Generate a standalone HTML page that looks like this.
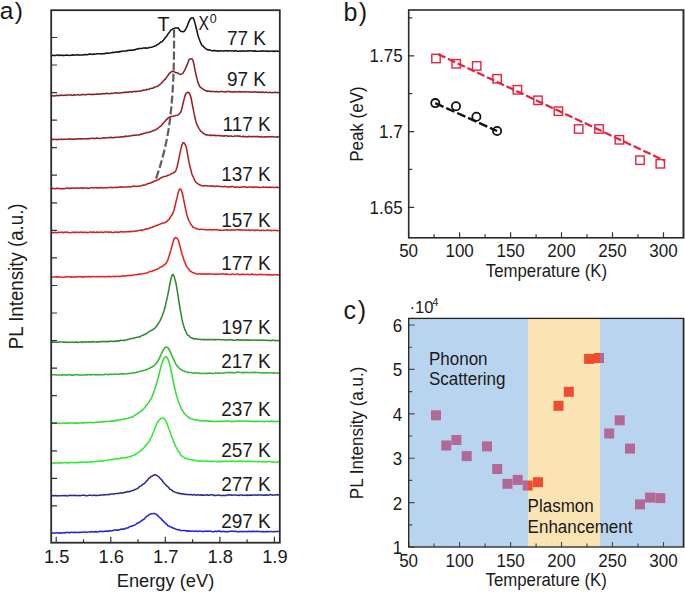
<!DOCTYPE html>
<html><head><meta charset="utf-8"><style>
html,body{margin:0;padding:0;background:#fff;}
svg{display:block;}
text{font-family:"Liberation Sans",sans-serif;fill:#1a1a1a;}
</style></head><body>
<svg width="685" height="592" viewBox="0 0 685 592">
<defs>
<clipPath id="ca"><rect x="52" y="11" width="227" height="531"/></clipPath>
<clipPath id="cblue"><rect x="409" y="319" width="119" height="228"/><rect x="600" y="319" width="83" height="228"/></clipPath>
<clipPath id="corange"><rect x="528" y="319" width="72" height="228"/></clipPath>
</defs>

<text x="-0.3" y="18.6" style="font-size:24.5px;letter-spacing:1.3px">a)</text>
<g clip-path="url(#ca)" fill="none" stroke-width="1.55" stroke-linejoin="round">
<path d="M52.0,55.2L53.0,55.4L54.0,55.3L55.0,55.4L56.0,55.4L57.0,55.0L58.0,55.0L59.0,55.6L60.0,55.1L61.0,55.1L62.0,55.6L63.0,55.3L64.0,55.5L65.0,55.2L66.0,55.3L67.0,55.0L68.0,55.3L69.0,55.4L70.0,55.2L71.0,55.3L72.0,55.2L73.0,54.8L74.0,55.2L75.0,55.1L76.0,54.9L77.0,54.6L78.0,55.2L79.0,54.9L80.0,55.0L81.0,55.1L82.0,54.9L83.0,55.0L84.0,54.6L85.0,54.8L86.0,54.5L87.0,54.8L88.0,54.7L89.0,54.1L90.0,54.1L91.0,54.1L92.0,54.5L93.0,54.1L94.0,54.2L95.0,53.9L96.0,54.0L97.0,53.8L98.0,53.7L99.0,53.8L100.0,53.8L101.0,53.9L102.0,53.7L103.0,53.8L104.0,53.6L105.0,53.6L106.0,53.3L107.0,52.9L108.0,53.2L109.0,53.2L110.0,53.1L111.0,52.7L112.0,52.7L113.0,52.2L114.0,52.5L115.0,52.3L116.0,51.9L117.0,51.7L118.0,52.1L119.0,52.1L120.0,51.3L121.0,51.7L122.0,51.3L123.0,51.0L124.0,51.0L125.0,51.2L126.0,51.1L127.0,50.4L128.0,50.7L129.0,50.1L130.0,50.5L131.0,50.0L132.0,50.3L133.0,50.2L134.0,49.7L135.0,49.9L136.0,49.2L137.0,48.9L138.0,49.1L139.0,48.5L140.0,48.5L141.0,48.5L142.0,48.5L143.0,48.1L144.0,47.9L145.0,48.3L146.0,47.8L147.0,48.2L148.0,48.0L149.0,47.5L150.0,47.4L151.0,47.3L152.0,47.1L153.0,46.8L154.0,46.4L155.0,46.0L156.0,45.7L157.0,44.8L158.0,44.1L159.0,43.7L160.0,42.7L161.0,42.0L162.0,41.7L163.0,40.5L164.0,39.5L165.0,38.0L166.0,37.0L167.0,35.7L168.0,33.9L169.0,32.8L170.0,31.4L171.0,29.9L172.0,29.5L173.0,28.8L174.0,28.5L175.0,27.9L176.0,27.9L177.0,27.9L178.0,27.8L179.0,29.0L180.0,30.7L181.0,31.5L182.0,31.5L183.0,31.8L184.0,31.5L185.0,30.3L186.0,28.7L187.0,26.7L188.0,23.9L189.0,21.4L190.0,19.4L191.0,18.2L192.0,17.8L193.0,17.7L194.0,19.8L195.0,23.1L196.0,27.2L197.0,31.3L198.0,35.5L199.0,38.4L200.0,41.1L201.0,43.5L202.0,45.3L203.0,46.0L204.0,47.2L205.0,48.0L206.0,49.0L207.0,49.3L208.0,50.0L209.0,49.8L210.0,50.1L211.0,50.5L212.0,50.8L213.0,50.6L214.0,50.6L215.0,50.6L216.0,50.9L217.0,50.7L218.0,51.1L219.0,51.1L220.0,50.7L221.0,50.8L222.0,51.1L223.0,51.0L224.0,51.1L225.0,50.8L226.0,50.7L227.0,50.8L228.0,51.1L229.0,50.8L230.0,50.8L231.0,50.9L232.0,50.9L233.0,50.9L234.0,51.3L235.0,50.7L236.0,50.6L237.0,51.3L238.0,51.2L239.0,51.3L240.0,50.9L241.0,51.3L242.0,51.3L243.0,50.8L244.0,51.1L245.0,51.2L246.0,51.1L247.0,51.0L248.0,50.8L249.0,50.9L250.0,50.8L251.0,50.7L252.0,51.1L253.0,50.9L254.0,51.2L255.0,50.7L256.0,51.3L257.0,51.2L258.0,51.3L259.0,51.3L260.0,51.3L261.0,51.1L262.0,50.7L263.0,51.3L264.0,50.9L265.0,51.0L266.0,51.2L267.0,51.1L268.0,51.1L269.0,51.4L270.0,51.2L271.0,51.0L272.0,51.0L273.0,51.4L274.0,51.1L275.0,51.4L276.0,51.1L277.0,51.0L278.0,51.2L279.0,51.4" stroke="#141414"/>
<path d="M52.0,95.5L53.0,95.9L54.0,95.9L55.0,95.8L56.0,95.8L57.0,95.2L58.0,95.6L59.0,95.7L60.0,95.2L61.0,95.3L62.0,95.2L63.0,95.4L64.0,95.3L65.0,95.3L66.0,95.5L67.0,94.9L68.0,94.9L69.0,94.9L70.0,94.9L71.0,94.8L72.0,95.4L73.0,95.3L74.0,94.8L75.0,95.0L76.0,94.9L77.0,94.8L78.0,94.8L79.0,95.0L80.0,94.9L81.0,94.7L82.0,94.6L83.0,94.6L84.0,94.5L85.0,94.7L86.0,94.8L87.0,94.5L88.0,94.3L89.0,94.3L90.0,94.4L91.0,94.5L92.0,94.6L93.0,94.3L94.0,94.5L95.0,94.3L96.0,94.2L97.0,94.1L98.0,94.1L99.0,94.2L100.0,93.9L101.0,94.1L102.0,93.8L103.0,93.6L104.0,93.8L105.0,93.8L106.0,93.3L107.0,93.5L108.0,93.4L109.0,93.7L110.0,93.6L111.0,93.2L112.0,93.5L113.0,93.3L114.0,92.9L115.0,93.0L116.0,92.7L117.0,93.1L118.0,92.9L119.0,93.0L120.0,92.9L121.0,92.8L122.0,92.8L123.0,92.6L124.0,92.2L125.0,92.5L126.0,92.1L127.0,92.1L128.0,92.5L129.0,91.9L130.0,91.8L131.0,91.7L132.0,92.2L133.0,91.6L134.0,91.4L135.0,91.8L136.0,91.2L137.0,91.6L138.0,91.3L139.0,91.3L140.0,91.2L141.0,90.8L142.0,90.8L143.0,90.0L144.0,90.3L145.0,89.9L146.0,89.9L147.0,89.2L148.0,89.4L149.0,89.3L150.0,88.5L151.0,88.4L152.0,88.3L153.0,88.2L154.0,87.4L155.0,87.1L156.0,86.7L157.0,86.6L158.0,86.1L159.0,85.2L160.0,84.4L161.0,83.5L162.0,82.5L163.0,81.5L164.0,80.1L165.0,79.3L166.0,78.4L167.0,76.6L168.0,75.5L169.0,73.7L170.0,72.9L171.0,72.0L172.0,71.5L173.0,71.3L174.0,71.6L175.0,72.2L176.0,72.8L177.0,72.7L178.0,73.0L179.0,73.9L180.0,74.4L181.0,74.3L182.0,73.9L183.0,73.2L184.0,71.4L185.0,69.6L186.0,67.3L187.0,65.2L188.0,62.5L189.0,59.8L190.0,58.9L191.0,59.0L192.0,58.8L193.0,60.4L194.0,64.7L195.0,70.1L196.0,74.5L197.0,78.9L198.0,82.6L199.0,84.9L200.0,86.8L201.0,87.7L202.0,88.3L203.0,89.1L204.0,89.6L205.0,90.5L206.0,90.5L207.0,91.4L208.0,91.1L209.0,91.3L210.0,91.3L211.0,91.6L212.0,91.6L213.0,91.5L214.0,91.5L215.0,91.7L216.0,91.8L217.0,91.5L218.0,91.8L219.0,91.9L220.0,91.6L221.0,91.4L222.0,91.5L223.0,91.8L224.0,91.8L225.0,92.0L226.0,92.0L227.0,91.5L228.0,91.5L229.0,91.6L230.0,91.6L231.0,91.9L232.0,92.0L233.0,92.1L234.0,91.6L235.0,92.1L236.0,91.7L237.0,91.8L238.0,92.0L239.0,91.6L240.0,91.6L241.0,92.1L242.0,91.8L243.0,91.8L244.0,92.0L245.0,92.1L246.0,91.6L247.0,91.8L248.0,91.9L249.0,92.0L250.0,91.8L251.0,92.1L252.0,92.3L253.0,92.0L254.0,92.1L255.0,91.8L256.0,91.9L257.0,92.2L258.0,91.9L259.0,92.4L260.0,92.4L261.0,91.9L262.0,92.5L263.0,92.1L264.0,92.4L265.0,92.4L266.0,92.1L267.0,92.4L268.0,92.4L269.0,92.5L270.0,92.2L271.0,92.5L272.0,92.7L273.0,92.5L274.0,92.4L275.0,92.2L276.0,92.4L277.0,92.4L278.0,92.6L279.0,92.6" stroke="#862226"/>
<path d="M52.0,139.5L53.0,139.3L54.0,139.6L55.0,139.5L56.0,139.2L57.0,139.7L58.0,139.5L59.0,139.1L60.0,139.6L61.0,139.1L62.0,139.2L63.0,139.4L64.0,139.3L65.0,139.3L66.0,139.3L67.0,139.2L68.0,139.0L69.0,138.9L70.0,138.8L71.0,139.2L72.0,139.3L73.0,139.1L74.0,139.2L75.0,138.9L76.0,138.8L77.0,138.9L78.0,139.2L79.0,138.6L80.0,138.9L81.0,138.7L82.0,139.0L83.0,138.7L84.0,138.7L85.0,138.7L86.0,138.8L87.0,138.9L88.0,138.6L89.0,138.9L90.0,138.3L91.0,138.4L92.0,138.2L93.0,138.2L94.0,138.6L95.0,138.6L96.0,138.1L97.0,138.1L98.0,138.2L99.0,138.4L100.0,138.4L101.0,138.3L102.0,138.1L103.0,137.8L104.0,137.9L105.0,137.7L106.0,137.9L107.0,137.9L108.0,137.5L109.0,137.5L110.0,137.8L111.0,137.2L112.0,137.7L113.0,137.7L114.0,137.7L115.0,137.2L116.0,137.3L117.0,137.2L118.0,137.2L119.0,137.3L120.0,137.1L121.0,136.7L122.0,137.0L123.0,136.7L124.0,136.6L125.0,136.6L126.0,136.0L127.0,136.4L128.0,136.2L129.0,136.0L130.0,135.9L131.0,135.8L132.0,135.4L133.0,135.6L134.0,135.1L135.0,135.3L136.0,135.2L137.0,135.0L138.0,134.9L139.0,135.0L140.0,134.7L141.0,134.0L142.0,134.2L143.0,133.9L144.0,133.2L145.0,133.2L146.0,132.8L147.0,132.4L148.0,132.5L149.0,132.4L150.0,131.7L151.0,131.7L152.0,131.3L153.0,130.5L154.0,130.6L155.0,130.0L156.0,129.7L157.0,128.9L158.0,128.2L159.0,127.2L160.0,126.6L161.0,125.8L162.0,124.7L163.0,123.3L164.0,122.5L165.0,121.3L166.0,120.1L167.0,119.1L168.0,118.2L169.0,117.5L170.0,116.8L171.0,116.6L172.0,116.5L173.0,116.2L174.0,115.9L175.0,115.8L176.0,115.4L177.0,115.3L178.0,115.0L179.0,114.2L180.0,113.1L181.0,111.8L182.0,108.0L183.0,103.5L184.0,99.6L185.0,95.9L186.0,93.4L187.0,92.6L188.0,92.2L189.0,92.7L190.0,94.4L191.0,97.5L192.0,102.9L193.0,107.9L194.0,113.2L195.0,117.8L196.0,121.9L197.0,124.7L198.0,126.7L199.0,128.6L200.0,130.1L201.0,131.6L202.0,132.2L203.0,132.9L204.0,133.8L205.0,134.3L206.0,134.9L207.0,134.8L208.0,135.1L209.0,135.2L210.0,135.0L211.0,135.7L212.0,135.2L213.0,135.2L214.0,135.5L215.0,135.3L216.0,135.7L217.0,135.5L218.0,135.4L219.0,135.4L220.0,135.9L221.0,135.6L222.0,136.0L223.0,135.8L224.0,136.2L225.0,135.8L226.0,135.8L227.0,135.8L228.0,136.3L229.0,136.2L230.0,136.0L231.0,135.9L232.0,136.3L233.0,136.5L234.0,136.3L235.0,135.9L236.0,136.0L237.0,136.0L238.0,136.1L239.0,136.1L240.0,136.1L241.0,136.5L242.0,136.7L243.0,136.3L244.0,136.8L245.0,136.5L246.0,136.7L247.0,136.8L248.0,136.9L249.0,136.2L250.0,136.4L251.0,136.7L252.0,136.9L253.0,136.3L254.0,136.5L255.0,136.9L256.0,136.4L257.0,136.6L258.0,136.6L259.0,136.8L260.0,137.0L261.0,136.5L262.0,136.9L263.0,136.9L264.0,137.0L265.0,136.8L266.0,137.1L267.0,136.7L268.0,136.7L269.0,136.6L270.0,137.0L271.0,136.8L272.0,136.7L273.0,136.6L274.0,137.0L275.0,136.9L276.0,137.0L277.0,136.8L278.0,136.9L279.0,136.7" stroke="#962125"/>
<path d="M52.0,188.7L53.0,188.3L54.0,188.5L55.0,188.7L56.0,188.7L57.0,188.2L58.0,188.3L59.0,188.7L60.0,188.6L61.0,188.7L62.0,188.7L63.0,188.4L64.0,188.7L65.0,188.6L66.0,188.3L67.0,188.3L68.0,188.1L69.0,188.3L70.0,188.7L71.0,188.0L72.0,188.4L73.0,188.0L74.0,188.0L75.0,188.4L76.0,188.1L77.0,187.9L78.0,188.0L79.0,188.3L80.0,188.2L81.0,187.8L82.0,188.0L83.0,188.5L84.0,187.9L85.0,188.1L86.0,188.0L87.0,188.3L88.0,188.1L89.0,188.2L90.0,188.0L91.0,187.8L92.0,187.7L93.0,187.6L94.0,188.1L95.0,187.6L96.0,187.5L97.0,188.2L98.0,187.6L99.0,188.1L100.0,187.5L101.0,187.7L102.0,187.6L103.0,188.0L104.0,187.8L105.0,187.8L106.0,187.8L107.0,187.9L108.0,187.5L109.0,187.6L110.0,187.5L111.0,187.2L112.0,187.7L113.0,187.5L114.0,187.6L115.0,187.2L116.0,187.4L117.0,187.3L118.0,187.4L119.0,186.9L120.0,187.1L121.0,187.1L122.0,186.8L123.0,187.1L124.0,187.2L125.0,186.9L126.0,187.0L127.0,187.0L128.0,186.6L129.0,186.7L130.0,187.1L131.0,186.6L132.0,186.6L133.0,186.3L134.0,186.3L135.0,186.1L136.0,186.6L137.0,186.3L138.0,186.3L139.0,186.3L140.0,185.9L141.0,185.9L142.0,185.5L143.0,185.1L144.0,185.3L145.0,184.9L146.0,184.7L147.0,184.0L148.0,183.8L149.0,183.2L150.0,183.3L151.0,182.8L152.0,182.1L153.0,182.2L154.0,181.3L155.0,180.8L156.0,180.8L157.0,180.1L158.0,179.8L159.0,179.3L160.0,178.3L161.0,178.2L162.0,177.3L163.0,176.9L164.0,176.5L165.0,176.5L166.0,176.3L167.0,175.8L168.0,175.3L169.0,175.0L170.0,174.6L171.0,173.9L172.0,173.4L173.0,173.2L174.0,172.5L175.0,171.9L176.0,170.3L177.0,167.2L178.0,162.8L179.0,158.1L180.0,153.2L181.0,148.6L182.0,144.8L183.0,142.7L184.0,142.7L185.0,144.3L186.0,146.2L187.0,150.9L188.0,156.8L189.0,162.2L190.0,166.7L191.0,170.6L192.0,174.3L193.0,176.4L194.0,178.7L195.0,180.9L196.0,182.3L197.0,183.1L198.0,183.8L199.0,184.4L200.0,185.2L201.0,185.3L202.0,185.8L203.0,185.8L204.0,186.1L205.0,185.6L206.0,185.8L207.0,185.7L208.0,186.0L209.0,186.0L210.0,185.9L211.0,186.2L212.0,185.9L213.0,186.1L214.0,186.1L215.0,186.5L216.0,186.2L217.0,186.2L218.0,186.0L219.0,186.3L220.0,186.5L221.0,186.6L222.0,186.8L223.0,186.7L224.0,186.4L225.0,186.3L226.0,186.8L227.0,186.9L228.0,186.7L229.0,187.0L230.0,186.8L231.0,186.6L232.0,186.6L233.0,186.5L234.0,187.0L235.0,187.2L236.0,187.2L237.0,186.9L238.0,187.1L239.0,187.3L240.0,187.2L241.0,187.1L242.0,187.0L243.0,187.1L244.0,186.8L245.0,186.8L246.0,187.2L247.0,187.4L248.0,187.1L249.0,187.0L250.0,187.0L251.0,187.1L252.0,187.3L253.0,187.1L254.0,187.5L255.0,186.9L256.0,187.0L257.0,187.2L258.0,187.1L259.0,187.4L260.0,187.4L261.0,187.5L262.0,187.3L263.0,186.9L264.0,187.3L265.0,187.2L266.0,187.2L267.0,187.1L268.0,187.4L269.0,187.5L270.0,187.0L271.0,187.4L272.0,187.2L273.0,187.3L274.0,187.5L275.0,187.6L276.0,187.4L277.0,187.1L278.0,187.6L279.0,187.1" stroke="#b32125"/>
<path d="M52.0,232.4L53.0,232.7L54.0,232.4L55.0,232.3L56.0,232.8L57.0,232.8L58.0,232.3L59.0,232.4L60.0,232.3L61.0,232.2L62.0,232.3L63.0,232.8L64.0,232.1L65.0,232.2L66.0,232.2L67.0,232.1L68.0,232.4L69.0,232.6L70.0,232.7L71.0,232.5L72.0,232.6L73.0,232.1L74.0,232.2L75.0,232.7L76.0,232.1L77.0,232.2L78.0,232.4L79.0,232.2L80.0,232.4L81.0,232.0L82.0,232.2L83.0,232.7L84.0,232.1L85.0,232.6L86.0,232.1L87.0,232.7L88.0,232.4L89.0,232.4L90.0,232.0L91.0,232.0L92.0,232.5L93.0,232.1L94.0,232.1L95.0,232.5L96.0,232.5L97.0,231.9L98.0,232.6L99.0,232.3L100.0,232.2L101.0,232.0L102.0,232.2L103.0,232.6L104.0,232.1L105.0,232.0L106.0,232.0L107.0,232.0L108.0,232.1L109.0,232.5L110.0,231.9L111.0,232.0L112.0,232.5L113.0,232.5L114.0,232.5L115.0,232.0L116.0,232.0L117.0,232.4L118.0,232.1L119.0,232.2L120.0,231.9L121.0,231.6L122.0,231.8L123.0,232.1L124.0,232.0L125.0,231.8L126.0,231.7L127.0,231.7L128.0,231.6L129.0,231.6L130.0,231.7L131.0,231.2L132.0,231.4L133.0,231.6L134.0,231.4L135.0,230.9L136.0,231.3L137.0,231.1L138.0,230.5L139.0,230.5L140.0,230.3L141.0,230.0L142.0,230.5L143.0,229.9L144.0,230.0L145.0,229.2L146.0,228.8L147.0,229.1L148.0,228.8L149.0,228.6L150.0,228.0L151.0,227.5L152.0,227.4L153.0,226.6L154.0,226.6L155.0,226.1L156.0,225.5L157.0,225.5L158.0,224.9L159.0,224.6L160.0,224.1L161.0,223.7L162.0,223.3L163.0,223.1L164.0,223.0L165.0,222.6L166.0,222.0L167.0,221.4L168.0,220.2L169.0,219.6L170.0,217.8L171.0,216.1L172.0,214.8L173.0,213.0L174.0,210.0L175.0,206.3L176.0,201.7L177.0,197.9L178.0,193.4L179.0,190.3L180.0,188.9L181.0,189.4L182.0,192.0L183.0,196.3L184.0,201.4L185.0,206.4L186.0,210.9L187.0,215.2L188.0,218.4L189.0,220.8L190.0,222.4L191.0,224.7L192.0,225.7L193.0,227.2L194.0,227.5L195.0,227.9L196.0,228.5L197.0,229.1L198.0,229.0L199.0,229.4L200.0,229.4L201.0,229.3L202.0,229.3L203.0,229.5L204.0,229.5L205.0,229.6L206.0,229.8L207.0,230.0L208.0,229.8L209.0,229.6L210.0,229.6L211.0,229.8L212.0,230.0L213.0,229.6L214.0,229.6L215.0,229.8L216.0,229.8L217.0,229.6L218.0,230.0L219.0,230.3L220.0,230.0L221.0,230.2L222.0,230.2L223.0,230.3L224.0,230.3L225.0,230.0L226.0,230.1L227.0,229.7L228.0,230.3L229.0,229.9L230.0,230.0L231.0,230.2L232.0,229.8L233.0,229.8L234.0,230.2L235.0,230.0L236.0,229.7L237.0,229.6L238.0,229.9L239.0,229.6L240.0,230.2L241.0,229.8L242.0,229.9L243.0,230.0L244.0,230.1L245.0,230.0L246.0,230.2L247.0,230.2L248.0,230.1L249.0,229.8L250.0,230.5L251.0,230.3L252.0,229.9L253.0,230.1L254.0,230.4L255.0,230.6L256.0,229.9L257.0,229.9L258.0,230.2L259.0,230.2L260.0,230.6L261.0,230.5L262.0,230.2L263.0,230.3L264.0,230.4L265.0,230.6L266.0,230.2L267.0,230.3L268.0,230.1L269.0,230.5L270.0,230.1L271.0,230.8L272.0,230.5L273.0,230.6L274.0,230.2L275.0,230.3L276.0,230.5L277.0,230.8L278.0,230.6L279.0,230.4" stroke="#d22226"/>
<path d="M52.0,277.3L53.0,277.1L54.0,277.0L55.0,276.8L56.0,276.8L57.0,277.3L58.0,276.7L59.0,277.0L60.0,277.1L61.0,276.9L62.0,277.2L63.0,277.2L64.0,277.2L65.0,277.1L66.0,276.7L67.0,276.6L68.0,276.9L69.0,276.8L70.0,276.7L71.0,277.2L72.0,276.7L73.0,277.1L74.0,277.2L75.0,276.6L76.0,277.2L77.0,276.8L78.0,276.7L79.0,276.7L80.0,276.6L81.0,276.9L82.0,276.8L83.0,277.1L84.0,277.1L85.0,276.5L86.0,276.8L87.0,276.8L88.0,276.6L89.0,276.6L90.0,276.6L91.0,276.9L92.0,276.7L93.0,276.5L94.0,276.6L95.0,276.7L96.0,276.8L97.0,276.5L98.0,276.9L99.0,276.5L100.0,276.8L101.0,276.8L102.0,276.4L103.0,276.8L104.0,276.6L105.0,276.7L106.0,276.7L107.0,276.7L108.0,276.5L109.0,276.3L110.0,276.7L111.0,276.8L112.0,276.5L113.0,276.5L114.0,276.3L115.0,276.7L116.0,276.5L117.0,276.1L118.0,276.5L119.0,276.6L120.0,276.1L121.0,276.5L122.0,276.1L123.0,275.8L124.0,276.1L125.0,275.8L126.0,276.0L127.0,275.8L128.0,275.3L129.0,275.5L130.0,275.7L131.0,275.3L132.0,275.2L133.0,275.3L134.0,274.9L135.0,274.8L136.0,274.7L137.0,274.8L138.0,274.2L139.0,274.0L140.0,274.3L141.0,274.0L142.0,273.6L143.0,273.8L144.0,273.6L145.0,273.2L146.0,273.2L147.0,272.9L148.0,272.5L149.0,271.9L150.0,271.4L151.0,271.6L152.0,271.3L153.0,270.6L154.0,270.4L155.0,270.0L156.0,269.4L157.0,269.2L158.0,268.7L159.0,268.1L160.0,267.4L161.0,267.1L162.0,266.4L163.0,266.1L164.0,265.0L165.0,264.4L166.0,263.2L167.0,261.8L168.0,259.6L169.0,256.3L170.0,253.1L171.0,249.7L172.0,245.9L173.0,242.3L174.0,239.3L175.0,237.8L176.0,237.6L177.0,238.2L178.0,239.8L179.0,242.5L180.0,246.6L181.0,250.2L182.0,253.8L183.0,257.0L184.0,260.4L185.0,262.6L186.0,265.5L187.0,267.0L188.0,268.4L189.0,269.5L190.0,271.1L191.0,271.3L192.0,272.2L193.0,272.8L194.0,272.9L195.0,273.2L196.0,273.9L197.0,273.9L198.0,273.9L199.0,274.1L200.0,273.6L201.0,274.1L202.0,274.1L203.0,273.8L204.0,274.0L205.0,274.4L206.0,273.9L207.0,274.2L208.0,273.8L209.0,274.2L210.0,273.9L211.0,274.1L212.0,274.0L213.0,274.3L214.0,274.2L215.0,274.1L216.0,274.2L217.0,274.0L218.0,274.3L219.0,273.9L220.0,274.1L221.0,274.2L222.0,274.0L223.0,273.8L224.0,273.9L225.0,274.2L226.0,274.0L227.0,274.3L228.0,274.2L229.0,274.5L230.0,274.4L231.0,274.4L232.0,274.1L233.0,273.9L234.0,274.3L235.0,274.4L236.0,274.5L237.0,274.1L238.0,274.0L239.0,274.6L240.0,274.5L241.0,274.3L242.0,274.5L243.0,274.1L244.0,274.4L245.0,274.5L246.0,274.5L247.0,274.2L248.0,274.2L249.0,274.5L250.0,274.7L251.0,274.2L252.0,274.1L253.0,274.2L254.0,274.7L255.0,274.4L256.0,274.5L257.0,274.9L258.0,274.6L259.0,274.4L260.0,274.7L261.0,274.3L262.0,274.5L263.0,274.8L264.0,274.4L265.0,274.4L266.0,274.7L267.0,274.6L268.0,275.1L269.0,274.5L270.0,275.0L271.0,274.7L272.0,275.0L273.0,274.8L274.0,274.9L275.0,274.7L276.0,274.7L277.0,274.8L278.0,275.1L279.0,274.8" stroke="#ea2224"/>
<path d="M52.0,342.1L53.0,342.2L54.0,342.0L55.0,342.2L56.0,342.3L57.0,342.3L58.0,342.3L59.0,342.1L60.0,341.9L61.0,341.9L62.0,342.1L63.0,342.0L64.0,342.3L65.0,342.1L66.0,342.4L67.0,342.3L68.0,342.3L69.0,342.4L70.0,342.2L71.0,342.2L72.0,342.1L73.0,341.9L74.0,342.4L75.0,342.2L76.0,341.9L77.0,342.5L78.0,342.2L79.0,342.2L80.0,342.1L81.0,341.9L82.0,342.5L83.0,341.9L84.0,342.0L85.0,342.4L86.0,341.8L87.0,342.1L88.0,342.0L89.0,341.8L90.0,342.3L91.0,341.9L92.0,341.6L93.0,341.9L94.0,341.6L95.0,342.0L96.0,342.1L97.0,342.1L98.0,341.5L99.0,341.9L100.0,341.6L101.0,341.7L102.0,341.6L103.0,341.6L104.0,341.4L105.0,341.7L106.0,341.3L107.0,341.9L108.0,341.2L109.0,341.8L110.0,341.2L111.0,341.1L112.0,341.5L113.0,341.3L114.0,341.4L115.0,341.1L116.0,341.2L117.0,340.7L118.0,341.0L119.0,340.8L120.0,341.0L121.0,340.2L122.0,340.2L123.0,340.4L124.0,340.5L125.0,340.0L126.0,340.0L127.0,339.7L128.0,339.4L129.0,339.2L130.0,339.1L131.0,338.5L132.0,338.5L133.0,338.5L134.0,338.0L135.0,337.9L136.0,337.4L137.0,337.2L138.0,337.2L139.0,337.0L140.0,336.8L141.0,336.2L142.0,335.6L143.0,335.3L144.0,334.7L145.0,334.2L146.0,333.8L147.0,333.1L148.0,332.3L149.0,331.7L150.0,331.1L151.0,330.5L152.0,330.2L153.0,329.3L154.0,329.0L155.0,327.9L156.0,326.7L157.0,325.6L158.0,323.8L159.0,322.7L160.0,320.8L161.0,318.6L162.0,316.6L163.0,313.7L164.0,310.7L165.0,307.3L166.0,302.9L167.0,298.6L168.0,293.8L169.0,288.9L170.0,283.2L171.0,278.8L172.0,275.3L173.0,274.3L174.0,276.2L175.0,279.4L176.0,283.5L177.0,289.2L178.0,295.4L179.0,301.9L180.0,308.6L181.0,313.7L182.0,319.4L183.0,323.6L184.0,326.9L185.0,330.0L186.0,331.8L187.0,334.0L188.0,335.4L189.0,335.8L190.0,337.0L191.0,337.8L192.0,337.8L193.0,338.6L194.0,338.9L195.0,338.7L196.0,338.7L197.0,338.9L198.0,339.4L199.0,339.3L200.0,339.3L201.0,339.4L202.0,339.8L203.0,339.4L204.0,339.2L205.0,339.9L206.0,339.5L207.0,339.5L208.0,340.0L209.0,339.5L210.0,339.3L211.0,339.9L212.0,339.5L213.0,339.4L214.0,340.0L215.0,339.5L216.0,339.9L217.0,339.5L218.0,339.5L219.0,339.5L220.0,339.7L221.0,339.8L222.0,339.7L223.0,339.8L224.0,339.6L225.0,340.0L226.0,340.1L227.0,340.0L228.0,340.1L229.0,339.6L230.0,339.7L231.0,339.7L232.0,339.7L233.0,340.2L234.0,340.2L235.0,340.2L236.0,340.0L237.0,339.7L238.0,339.9L239.0,339.7L240.0,340.3L241.0,339.8L242.0,339.9L243.0,340.4L244.0,339.8L245.0,340.4L246.0,339.9L247.0,340.2L248.0,339.8L249.0,340.4L250.0,340.1L251.0,340.0L252.0,340.3L253.0,340.2L254.0,340.0L255.0,339.9L256.0,340.3L257.0,339.9L258.0,340.5L259.0,340.1L260.0,340.0L261.0,340.2L262.0,340.0L263.0,340.2L264.0,340.3L265.0,340.3L266.0,340.2L267.0,340.2L268.0,340.4L269.0,340.6L270.0,340.3L271.0,340.6L272.0,340.4L273.0,340.2L274.0,340.2L275.0,340.7L276.0,340.4L277.0,340.4L278.0,340.5L279.0,340.7" stroke="#2c8a2e"/>
<path d="M52.0,374.8L53.0,374.8L54.0,374.8L55.0,374.6L56.0,374.9L57.0,374.9L58.0,374.9L59.0,374.9L60.0,374.9L61.0,375.0L62.0,374.7L63.0,375.2L64.0,374.6L65.0,375.1L66.0,374.7L67.0,375.1L68.0,374.7L69.0,374.6L70.0,374.9L71.0,375.1L72.0,375.1L73.0,375.1L74.0,375.2L75.0,374.6L76.0,374.8L77.0,374.6L78.0,375.0L79.0,374.8L80.0,375.0L81.0,375.1L82.0,375.2L83.0,375.0L84.0,375.1L85.0,374.9L86.0,374.5L87.0,375.1L88.0,374.5L89.0,374.5L90.0,375.0L91.0,374.6L92.0,374.9L93.0,374.4L94.0,374.5L95.0,374.9L96.0,374.4L97.0,374.7L98.0,375.0L99.0,374.5L100.0,374.8L101.0,374.8L102.0,374.7L103.0,374.8L104.0,374.7L105.0,374.2L106.0,374.3L107.0,374.5L108.0,374.8L109.0,374.2L110.0,374.4L111.0,374.1L112.0,374.6L113.0,374.2L114.0,374.3L115.0,374.3L116.0,373.9L117.0,374.3L118.0,374.3L119.0,374.3L120.0,373.9L121.0,373.8L122.0,373.7L123.0,374.2L124.0,373.8L125.0,373.7L126.0,373.7L127.0,373.7L128.0,373.4L129.0,373.3L130.0,373.5L131.0,373.4L132.0,372.9L133.0,372.6L134.0,373.0L135.0,372.7L136.0,372.4L137.0,372.1L138.0,372.2L139.0,371.6L140.0,371.2L141.0,370.9L142.0,370.8L143.0,370.7L144.0,370.2L145.0,370.3L146.0,369.7L147.0,369.2L148.0,368.9L149.0,368.5L150.0,368.0L151.0,367.5L152.0,367.0L153.0,366.3L154.0,365.8L155.0,364.4L156.0,363.7L157.0,362.2L158.0,361.1L159.0,358.9L160.0,356.9L161.0,354.5L162.0,352.6L163.0,350.5L164.0,348.9L165.0,347.5L166.0,347.1L167.0,347.3L168.0,347.8L169.0,349.3L170.0,351.0L171.0,353.4L172.0,355.5L173.0,358.1L174.0,360.2L175.0,362.4L176.0,364.4L177.0,365.9L178.0,366.7L179.0,368.0L180.0,368.9L181.0,369.3L182.0,370.4L183.0,370.6L184.0,371.0L185.0,371.5L186.0,371.8L187.0,372.0L188.0,372.5L189.0,372.4L190.0,372.5L191.0,372.4L192.0,372.9L193.0,372.9L194.0,373.1L195.0,373.1L196.0,372.9L197.0,373.0L198.0,373.1L199.0,373.1L200.0,373.6L201.0,373.4L202.0,373.2L203.0,373.5L204.0,373.5L205.0,373.1L206.0,373.5L207.0,373.2L208.0,373.7L209.0,373.1L210.0,373.2L211.0,373.1L212.0,373.5L213.0,373.5L214.0,373.3L215.0,372.9L216.0,373.1L217.0,373.2L218.0,372.7L219.0,373.3L220.0,373.2L221.0,373.2L222.0,373.0L223.0,372.9L224.0,373.1L225.0,372.6L226.0,372.6L227.0,372.4L228.0,372.4L229.0,372.8L230.0,372.3L231.0,372.7L232.0,372.5L233.0,372.8L234.0,372.7L235.0,372.6L236.0,372.7L237.0,372.1L238.0,372.3L239.0,372.3L240.0,372.4L241.0,372.5L242.0,372.7L243.0,372.6L244.0,372.7L245.0,372.5L246.0,372.3L247.0,372.4L248.0,372.6L249.0,372.7L250.0,372.4L251.0,372.4L252.0,372.6L253.0,372.3L254.0,372.8L255.0,372.2L256.0,372.7L257.0,372.6L258.0,372.4L259.0,372.6L260.0,372.6L261.0,373.0L262.0,372.9L263.0,372.7L264.0,373.0L265.0,373.0L266.0,372.5L267.0,373.0L268.0,373.0L269.0,373.1L270.0,373.0L271.0,372.8L272.0,372.7L273.0,373.0L274.0,372.7L275.0,373.1L276.0,373.0L277.0,373.2L278.0,372.9L279.0,372.9" stroke="#36b236"/>
<path d="M52.0,423.5L53.0,423.3L54.0,423.1L55.0,423.2L56.0,423.1L57.0,423.2L58.0,423.1L59.0,423.0L60.0,423.5L61.0,423.4L62.0,423.3L63.0,422.9L64.0,422.9L65.0,423.2L66.0,423.3L67.0,423.2L68.0,422.8L69.0,423.2L70.0,423.0L71.0,422.9L72.0,423.1L73.0,422.9L74.0,423.1L75.0,423.1L76.0,423.3L77.0,422.7L78.0,423.0L79.0,423.2L80.0,423.0L81.0,422.9L82.0,423.1L83.0,422.5L84.0,423.0L85.0,422.8L86.0,422.8L87.0,422.6L88.0,422.8L89.0,422.4L90.0,422.6L91.0,422.4L92.0,422.8L93.0,422.7L94.0,422.4L95.0,422.5L96.0,422.2L97.0,422.3L98.0,421.9L99.0,422.4L100.0,422.2L101.0,422.2L102.0,421.6L103.0,422.0L104.0,421.4L105.0,421.7L106.0,421.6L107.0,421.2L108.0,421.3L109.0,421.6L110.0,421.3L111.0,420.9L112.0,421.2L113.0,420.7L114.0,421.0L115.0,420.5L116.0,420.2L117.0,420.7L118.0,419.9L119.0,419.9L120.0,420.1L121.0,419.4L122.0,419.5L123.0,419.6L124.0,419.2L125.0,418.8L126.0,418.8L127.0,418.6L128.0,418.2L129.0,418.0L130.0,417.5L131.0,417.2L132.0,417.3L133.0,416.8L134.0,415.7L135.0,415.2L136.0,414.5L137.0,414.3L138.0,413.2L139.0,412.5L140.0,412.1L141.0,410.9L142.0,410.6L143.0,409.3L144.0,408.5L145.0,407.4L146.0,405.8L147.0,404.9L148.0,403.4L149.0,401.8L150.0,400.2L151.0,398.9L152.0,396.7L153.0,394.0L154.0,391.6L155.0,388.3L156.0,385.4L157.0,381.8L158.0,378.5L159.0,374.8L160.0,370.4L161.0,366.5L162.0,363.0L163.0,360.4L164.0,358.2L165.0,357.4L166.0,356.5L167.0,357.6L168.0,359.0L169.0,361.9L170.0,365.8L171.0,370.4L172.0,375.2L173.0,380.5L174.0,384.8L175.0,389.2L176.0,393.6L177.0,397.1L178.0,400.2L179.0,403.0L180.0,405.3L181.0,407.8L182.0,409.6L183.0,411.4L184.0,413.0L185.0,414.1L186.0,415.2L187.0,416.2L188.0,417.0L189.0,417.4L190.0,418.5L191.0,418.6L192.0,419.0L193.0,419.4L194.0,419.2L195.0,419.9L196.0,420.1L197.0,419.9L198.0,419.9L199.0,420.6L200.0,420.8L201.0,420.8L202.0,420.6L203.0,420.9L204.0,420.6L205.0,420.8L206.0,421.0L207.0,421.2L208.0,420.8L209.0,421.5L210.0,420.9L211.0,421.6L212.0,421.1L213.0,421.5L214.0,421.5L215.0,421.6L216.0,421.3L217.0,421.4L218.0,421.2L219.0,421.5L220.0,421.0L221.0,421.6L222.0,421.4L223.0,421.0L224.0,421.6L225.0,421.1L226.0,421.0L227.0,421.1L228.0,420.9L229.0,421.1L230.0,421.4L231.0,421.6L232.0,421.3L233.0,421.5L234.0,421.4L235.0,421.4L236.0,421.1L237.0,421.0L238.0,421.0L239.0,421.2L240.0,421.0L241.0,421.4L242.0,421.1L243.0,421.3L244.0,421.2L245.0,421.3L246.0,421.0L247.0,421.1L248.0,421.4L249.0,421.0L250.0,421.4L251.0,421.6L252.0,421.2L253.0,421.6L254.0,421.3L255.0,421.6L256.0,421.3L257.0,421.5L258.0,421.4L259.0,421.1L260.0,421.3L261.0,421.4L262.0,421.3L263.0,421.4L264.0,421.6L265.0,421.5L266.0,421.5L267.0,421.1L268.0,421.5L269.0,421.4L270.0,421.7L271.0,421.0L272.0,421.1L273.0,421.7L274.0,421.3L275.0,421.5L276.0,421.4L277.0,421.3L278.0,421.4L279.0,421.4" stroke="#36dc36"/>
<path d="M52.0,463.3L53.0,463.0L54.0,463.2L55.0,462.8L56.0,463.1L57.0,463.0L58.0,463.1L59.0,463.1L60.0,462.6L61.0,463.2L62.0,462.9L63.0,462.6L64.0,462.8L65.0,462.5L66.0,462.6L67.0,463.0L68.0,462.9L69.0,463.0L70.0,462.4L71.0,462.4L72.0,462.5L73.0,462.6L74.0,462.7L75.0,462.4L76.0,462.7L77.0,462.6L78.0,462.3L79.0,462.7L80.0,462.1L81.0,462.5L82.0,462.1L83.0,462.0L84.0,462.3L85.0,462.3L86.0,462.3L87.0,462.1L88.0,462.4L89.0,462.3L90.0,461.8L91.0,461.6L92.0,462.2L93.0,461.7L94.0,461.4L95.0,461.4L96.0,461.7L97.0,461.2L98.0,461.2L99.0,461.3L100.0,461.0L101.0,461.1L102.0,461.1L103.0,460.9L104.0,460.7L105.0,460.5L106.0,460.2L107.0,460.2L108.0,460.1L109.0,459.9L110.0,459.7L111.0,459.7L112.0,459.2L113.0,459.4L114.0,459.5L115.0,458.7L116.0,458.7L117.0,459.1L118.0,458.3L119.0,458.7L120.0,458.4L121.0,457.9L122.0,458.2L123.0,457.6L124.0,458.1L125.0,457.6L126.0,457.8L127.0,457.7L128.0,456.9L129.0,456.9L130.0,456.5L131.0,456.6L132.0,455.8L133.0,455.4L134.0,454.9L135.0,454.9L136.0,453.9L137.0,453.3L138.0,452.7L139.0,452.1L140.0,451.2L141.0,450.7L142.0,449.4L143.0,448.5L144.0,447.8L145.0,446.2L146.0,445.0L147.0,444.3L148.0,442.6L149.0,441.5L150.0,439.9L151.0,437.9L152.0,435.8L153.0,433.0L154.0,430.8L155.0,428.1L156.0,425.5L157.0,423.2L158.0,421.5L159.0,420.7L160.0,419.1L161.0,418.5L162.0,418.1L163.0,418.0L164.0,418.6L165.0,419.7L166.0,421.1L167.0,423.6L168.0,426.4L169.0,429.1L170.0,431.6L171.0,434.9L172.0,437.2L173.0,439.7L174.0,442.4L175.0,444.8L176.0,446.8L177.0,448.5L178.0,450.8L179.0,451.8L180.0,453.5L181.0,455.3L182.0,456.2L183.0,457.0L184.0,457.2L185.0,458.2L186.0,458.3L187.0,458.4L188.0,459.2L189.0,459.6L190.0,459.2L191.0,459.6L192.0,460.1L193.0,459.9L194.0,460.0L195.0,460.5L196.0,460.4L197.0,460.9L198.0,461.0L199.0,461.1L200.0,461.1L201.0,460.8L202.0,461.2L203.0,461.2L204.0,461.2L205.0,461.3L206.0,461.1L207.0,461.1L208.0,461.6L209.0,461.3L210.0,461.1L211.0,461.8L212.0,461.4L213.0,461.6L214.0,461.3L215.0,461.2L216.0,461.4L217.0,461.7L218.0,461.3L219.0,461.8L220.0,461.3L221.0,461.7L222.0,461.2L223.0,461.4L224.0,461.2L225.0,461.2L226.0,461.4L227.0,461.3L228.0,461.4L229.0,461.2L230.0,461.3L231.0,461.3L232.0,461.7L233.0,461.1L234.0,461.3L235.0,461.6L236.0,461.4L237.0,461.2L238.0,461.7L239.0,461.1L240.0,461.1L241.0,461.1L242.0,461.4L243.0,461.7L244.0,461.3L245.0,461.3L246.0,461.7L247.0,461.2L248.0,461.2L249.0,461.6L250.0,461.2L251.0,461.6L252.0,461.3L253.0,461.6L254.0,461.8L255.0,461.6L256.0,461.5L257.0,461.7L258.0,461.8L259.0,461.4L260.0,461.5L261.0,461.6L262.0,461.7L263.0,461.6L264.0,461.9L265.0,461.6L266.0,462.1L267.0,461.7L268.0,461.6L269.0,461.5L270.0,461.6L271.0,461.7L272.0,462.1L273.0,461.8L274.0,461.9L275.0,462.3L276.0,462.3L277.0,462.2L278.0,461.8L279.0,461.9" stroke="#30ec30"/>
<path d="M52.0,495.8L53.0,495.6L54.0,495.7L55.0,495.6L56.0,495.6L57.0,495.9L58.0,495.8L59.0,495.7L60.0,495.7L61.0,495.8L62.0,495.8L63.0,495.4L64.0,495.9L65.0,495.6L66.0,495.5L67.0,496.0L68.0,495.8L69.0,495.5L70.0,495.3L71.0,495.6L72.0,495.5L73.0,495.5L74.0,495.3L75.0,495.6L76.0,495.4L77.0,495.7L78.0,495.5L79.0,495.4L80.0,495.7L81.0,495.5L82.0,495.2L83.0,495.3L84.0,495.2L85.0,495.4L86.0,495.8L87.0,495.8L88.0,495.6L89.0,495.2L90.0,495.3L91.0,495.3L92.0,495.4L93.0,495.5L94.0,495.1L95.0,495.4L96.0,495.3L97.0,495.5L98.0,495.5L99.0,495.2L100.0,495.3L101.0,495.0L102.0,495.0L103.0,495.1L104.0,494.6L105.0,494.9L106.0,494.8L107.0,494.5L108.0,494.4L109.0,494.7L110.0,494.3L111.0,494.1L112.0,494.0L113.0,494.1L114.0,493.9L115.0,493.7L116.0,493.6L117.0,493.4L118.0,493.5L119.0,493.4L120.0,492.9L121.0,493.1L122.0,492.7L123.0,493.0L124.0,492.8L125.0,492.0L126.0,492.2L127.0,491.8L128.0,491.4L129.0,491.7L130.0,491.4L131.0,491.1L132.0,490.7L133.0,490.6L134.0,489.9L135.0,489.6L136.0,489.1L137.0,488.7L138.0,488.2L139.0,487.1L140.0,486.4L141.0,485.8L142.0,485.1L143.0,484.1L144.0,483.7L145.0,482.8L146.0,481.7L147.0,480.5L148.0,479.5L149.0,478.2L150.0,477.7L151.0,476.5L152.0,476.3L153.0,475.5L154.0,474.9L155.0,474.7L156.0,475.1L157.0,475.5L158.0,476.4L159.0,476.9L160.0,478.4L161.0,479.1L162.0,480.2L163.0,481.7L164.0,482.9L165.0,484.0L166.0,485.0L167.0,486.2L168.0,486.8L169.0,487.9L170.0,489.3L171.0,489.6L172.0,490.3L173.0,491.4L174.0,491.6L175.0,492.1L176.0,492.5L177.0,492.9L178.0,492.9L179.0,493.5L180.0,493.2L181.0,494.0L182.0,493.8L183.0,494.1L184.0,494.0L185.0,494.4L186.0,494.3L187.0,494.5L188.0,494.4L189.0,494.8L190.0,494.8L191.0,494.4L192.0,494.9L193.0,495.0L194.0,494.6L195.0,494.6L196.0,495.1L197.0,495.2L198.0,494.6L199.0,495.1L200.0,495.2L201.0,494.8L202.0,495.2L203.0,494.9L204.0,495.2L205.0,495.0L206.0,495.0L207.0,494.8L208.0,495.2L209.0,495.2L210.0,494.9L211.0,494.8L212.0,494.8L213.0,494.9L214.0,495.5L215.0,495.3L216.0,495.4L217.0,495.3L218.0,494.9L219.0,495.1L220.0,495.5L221.0,495.4L222.0,495.5L223.0,495.4L224.0,495.3L225.0,495.4L226.0,495.5L227.0,495.1L228.0,494.9L229.0,495.1L230.0,494.8L231.0,495.0L232.0,495.3L233.0,495.0L234.0,495.0L235.0,494.9L236.0,495.1L237.0,495.2L238.0,495.3L239.0,495.5L240.0,494.9L241.0,495.0L242.0,494.9L243.0,495.5L244.0,495.3L245.0,495.3L246.0,495.4L247.0,494.8L248.0,495.5L249.0,495.1L250.0,495.3L251.0,495.1L252.0,495.3L253.0,495.0L254.0,495.0L255.0,494.9L256.0,495.3L257.0,495.1L258.0,494.8L259.0,495.0L260.0,495.1L261.0,495.0L262.0,495.1L263.0,495.3L264.0,495.1L265.0,495.2L266.0,494.8L267.0,495.2L268.0,495.3L269.0,495.0L270.0,494.6L271.0,494.6L272.0,495.1L273.0,495.1L274.0,495.0L275.0,494.9L276.0,494.9L277.0,494.6L278.0,494.9L279.0,495.1" stroke="#2a2a92"/>
<path d="M52.0,532.8L53.0,533.1L54.0,533.2L55.0,533.0L56.0,532.8L57.0,532.7L58.0,533.0L59.0,533.1L60.0,533.1L61.0,532.7L62.0,532.9L63.0,533.0L64.0,532.6L65.0,532.9L66.0,532.6L67.0,532.4L68.0,532.3L69.0,532.8L70.0,532.7L71.0,532.2L72.0,532.2L73.0,532.4L74.0,532.3L75.0,532.6L76.0,532.2L77.0,532.4L78.0,532.4L79.0,532.2L80.0,532.5L81.0,532.2L82.0,532.2L83.0,532.3L84.0,532.1L85.0,531.9L86.0,532.4L87.0,532.3L88.0,532.1L89.0,532.0L90.0,532.1L91.0,531.8L92.0,531.6L93.0,531.9L94.0,532.1L95.0,531.5L96.0,532.1L97.0,531.6L98.0,532.0L99.0,531.8L100.0,531.3L101.0,531.2L102.0,531.6L103.0,531.6L104.0,531.4L105.0,531.2L106.0,531.1L107.0,531.2L108.0,531.1L109.0,531.1L110.0,530.6L111.0,530.9L112.0,530.9L113.0,530.5L114.0,530.0L115.0,530.0L116.0,530.2L117.0,530.0L118.0,530.2L119.0,529.8L120.0,529.7L121.0,529.1L122.0,529.2L123.0,529.1L124.0,529.1L125.0,528.8L126.0,528.1L127.0,528.0L128.0,528.0L129.0,527.0L130.0,526.6L131.0,526.3L132.0,526.3L133.0,525.5L134.0,525.3L135.0,524.9L136.0,524.3L137.0,523.2L138.0,523.1L139.0,522.5L140.0,521.8L141.0,521.2L142.0,520.5L143.0,519.7L144.0,519.2L145.0,518.1L146.0,516.9L147.0,516.1L148.0,515.8L149.0,514.7L150.0,514.3L151.0,514.1L152.0,513.7L153.0,513.6L154.0,513.4L155.0,513.8L156.0,514.1L157.0,514.9L158.0,515.8L159.0,517.0L160.0,517.9L161.0,518.6L162.0,520.0L163.0,520.7L164.0,522.0L165.0,522.7L166.0,523.9L167.0,524.5L168.0,525.7L169.0,525.9L170.0,526.8L171.0,527.0L172.0,527.4L173.0,528.2L174.0,528.2L175.0,528.7L176.0,529.1L177.0,529.7L178.0,529.7L179.0,529.5L180.0,530.1L181.0,530.6L182.0,530.7L183.0,530.5L184.0,530.5L185.0,530.6L186.0,531.0L187.0,530.7L188.0,531.2L189.0,530.8L190.0,531.2L191.0,531.2L192.0,530.9L193.0,531.1L194.0,531.2L195.0,531.0L196.0,531.2L197.0,531.3L198.0,531.6L199.0,531.1L200.0,531.0L201.0,531.3L202.0,531.4L203.0,531.3L204.0,531.6L205.0,531.1L206.0,531.3L207.0,531.3L208.0,531.1L209.0,531.3L210.0,531.3L211.0,531.3L212.0,531.6L213.0,531.7L214.0,531.7L215.0,531.2L216.0,531.3L217.0,531.7L218.0,531.1L219.0,531.1L220.0,531.1L221.0,531.8L222.0,531.4L223.0,531.4L224.0,531.2L225.0,531.7L226.0,531.8L227.0,531.6L228.0,531.7L229.0,531.5L230.0,531.3L231.0,531.2L232.0,531.3L233.0,531.2L234.0,531.4L235.0,531.2L236.0,531.2L237.0,531.8L238.0,531.7L239.0,531.7L240.0,531.4L241.0,531.5L242.0,531.5L243.0,531.7L244.0,531.4L245.0,531.5L246.0,531.6L247.0,531.8L248.0,531.4L249.0,531.2L250.0,531.5L251.0,531.8L252.0,531.3L253.0,531.6L254.0,531.3L255.0,531.4L256.0,531.6L257.0,531.3L258.0,531.5L259.0,531.6L260.0,531.4L261.0,531.7L262.0,531.8L263.0,531.4L264.0,531.7L265.0,531.7L266.0,531.6L267.0,531.6L268.0,531.6L269.0,531.7L270.0,531.6L271.0,531.4L272.0,531.6L273.0,531.7L274.0,531.5L275.0,531.8L276.0,531.4L277.0,531.5L278.0,531.5L279.0,531.6" stroke="#2323dd"/>
</g>
<path d="M174,29.5 C174.3,60 173.5,85 171.5,105 C169.5,128 166,150 155.9,179" fill="none" stroke="#5e5e5e" stroke-width="2.2" stroke-dasharray="8,3"/>
<path d="M51,37.5H57M51,65.0H57M51,92.6H57M51,120.2H57M51,147.7H57M51,175.2H57M51,202.8H57M51,230.3H57M51,257.9H57M51,285.5H57M51,313.0H57M51,340.6H57M51,368.1H57M51,395.7H57M51,423.2H57M51,450.8H57M51,478.3H57M51,505.9H57M56.2,542.7V536.7M83.5,542.7V539.2M110.8,542.7V536.7M138.0,542.7V539.2M165.3,542.7V536.7M192.6,542.7V539.2M219.9,542.7V536.7M247.1,542.7V539.2M274.4,542.7V536.7" stroke="#333" stroke-width="1.2" fill="none"/>
<rect x="51.2" y="10.2" width="228.6" height="532.5" fill="none" stroke="#2b2b2b" stroke-width="1.8"/>
<text transform="translate(56.7,563.3) scale(1,1.04)" text-anchor="middle" style="font-size:18.3px">1.5</text>
<text transform="translate(111.2,563.3) scale(1,1.04)" text-anchor="middle" style="font-size:18.3px">1.6</text>
<text transform="translate(165.8,563.3) scale(1,1.04)" text-anchor="middle" style="font-size:18.3px">1.7</text>
<text transform="translate(220.3,563.3) scale(1,1.04)" text-anchor="middle" style="font-size:18.3px">1.8</text>
<text transform="translate(274.9,563.3) scale(1,1.04)" text-anchor="middle" style="font-size:18.3px">1.9</text>
<text transform="translate(165.5,586.9) scale(1,1.04)" text-anchor="middle" style="font-size:18.3px">Energy (eV)</text>
<text transform="translate(23.2,276.3) rotate(-90) scale(1,1.04)" text-anchor="middle" style="font-size:18.7px">PL Intensity (a.u.)</text>
<text transform="translate(266.0,44.6) scale(1,1.04)" text-anchor="end" style="font-size:19px">77 K</text>
<text transform="translate(266.0,85.9) scale(1,1.04)" text-anchor="end" style="font-size:19px">97 K</text>
<text transform="translate(270.8,130.9) scale(1,1.04)" text-anchor="end" style="font-size:19px">117 K</text>
<text transform="translate(270.8,180.7) scale(1,1.04)" text-anchor="end" style="font-size:19px">137 K</text>
<text transform="translate(270.8,226.8) scale(1,1.04)" text-anchor="end" style="font-size:19px">157 K</text>
<text transform="translate(270.8,270) scale(1,1.04)" text-anchor="end" style="font-size:19px">177 K</text>
<text transform="translate(270.8,333.9) scale(1,1.04)" text-anchor="end" style="font-size:19px">197 K</text>
<text transform="translate(270.8,368) scale(1,1.04)" text-anchor="end" style="font-size:19px">217 K</text>
<text transform="translate(270.8,416.3) scale(1,1.04)" text-anchor="end" style="font-size:19px">237 K</text>
<text transform="translate(270.8,457.2) scale(1,1.04)" text-anchor="end" style="font-size:19px">257 K</text>
<text transform="translate(270.8,490.8) scale(1,1.04)" text-anchor="end" style="font-size:19px">277 K</text>
<text transform="translate(270.8,527.5) scale(1,1.04)" text-anchor="end" style="font-size:19px">297 K</text>
<text transform="translate(157.6,31) scale(1,1.04)" style="font-size:19.8px">T</text>
<text transform="translate(198.6,29.6) scale(0.8,1) scale(1,1.04)" style="font-size:19.5px">X</text><text transform="translate(209.8,22.8) scale(1,1.04)" style="font-size:12.5px">0</text>
<text x="343.6" y="21.3" style="font-size:25px;letter-spacing:1.3px">b)</text>
<path d="M408.6,237.8V232.3M434.1,237.8V234.3M459.6,237.8V232.3M485.1,237.8V234.3M510.6,237.8V232.3M536.1,237.8V234.3M561.5,237.8V232.3M587.0,237.8V234.3M612.5,237.8V232.3M638.0,237.8V234.3M663.5,237.8V232.3M408.7,207.3H414.2M408.7,169.4H412.2M408.7,131.6H414.2M408.7,93.7H412.2M408.7,55.8H414.2M408.7,17.9H412.2M408.7,-19.9H414.2M408.7,17.9H412.2" stroke="#333" stroke-width="1.2" fill="none"/>
<rect x="408.7" y="10" width="274.6" height="227.8" fill="none" stroke="#2b2b2b" stroke-width="1.6"/>
<text transform="translate(408.6,257) scale(1,1.04)" text-anchor="middle" style="font-size:17px">50</text>
<text transform="translate(459.6,257) scale(1,1.04)" text-anchor="middle" style="font-size:17px">100</text>
<text transform="translate(510.6,257) scale(1,1.04)" text-anchor="middle" style="font-size:17px">150</text>
<text transform="translate(561.5,257) scale(1,1.04)" text-anchor="middle" style="font-size:17px">200</text>
<text transform="translate(612.5,257) scale(1,1.04)" text-anchor="middle" style="font-size:17px">250</text>
<text transform="translate(663.5,257) scale(1,1.04)" text-anchor="middle" style="font-size:17px">300</text>
<text transform="translate(402.6,62.0) scale(1,1.04)" text-anchor="end" style="font-size:17px">1.75</text>
<text transform="translate(402.6,137.8) scale(1,1.04)" text-anchor="end" style="font-size:17px">1.7</text>
<text transform="translate(402.6,213.5) scale(1,1.04)" text-anchor="end" style="font-size:17px">1.65</text>
<text transform="translate(546.4,276.6) scale(1,1.04)" text-anchor="middle" style="font-size:16.8px">Temperature (K)</text>
<text transform="translate(362.8,124.1) rotate(-90) scale(1,1.04)" text-anchor="middle" style="font-size:17px">Peak (eV)</text>
<path d="M438.1,54.2 L664.9,160.8" stroke="#e8203f" stroke-width="2.2" stroke-dasharray="8,2.8" fill="none"/>
<rect x="431.8" y="54.3" width="8.4" height="8.4" fill="none" stroke="#e8203f" stroke-width="1.4"/>
<rect x="452.0" y="59.6" width="8.4" height="8.4" fill="none" stroke="#e8203f" stroke-width="1.4"/>
<rect x="472.5" y="61.7" width="8.4" height="8.4" fill="none" stroke="#e8203f" stroke-width="1.4"/>
<rect x="492.9" y="74.6" width="8.4" height="8.4" fill="none" stroke="#e8203f" stroke-width="1.4"/>
<rect x="513.2" y="85.6" width="8.4" height="8.4" fill="none" stroke="#e8203f" stroke-width="1.4"/>
<rect x="533.8" y="96.1" width="8.4" height="8.4" fill="none" stroke="#e8203f" stroke-width="1.4"/>
<rect x="554.2" y="107.0" width="8.4" height="8.4" fill="none" stroke="#e8203f" stroke-width="1.4"/>
<rect x="574.5" y="124.8" width="8.4" height="8.4" fill="none" stroke="#e8203f" stroke-width="1.4"/>
<rect x="594.8" y="124.8" width="8.4" height="8.4" fill="none" stroke="#e8203f" stroke-width="1.4"/>
<rect x="615.2" y="135.6" width="8.4" height="8.4" fill="none" stroke="#e8203f" stroke-width="1.4"/>
<rect x="635.8" y="156.0" width="8.4" height="8.4" fill="none" stroke="#e8203f" stroke-width="1.4"/>
<rect x="656.1" y="159.6" width="8.4" height="8.4" fill="none" stroke="#e8203f" stroke-width="1.4"/>
<path d="M435.3,103.1 L497.1,131" stroke="#111" stroke-width="2.4" stroke-dasharray="9,3" fill="none"/>
<circle cx="435.3" cy="103.1" r="4.1" fill="none" stroke="#111" stroke-width="1.8"/>
<circle cx="456" cy="106.2" r="4.1" fill="none" stroke="#111" stroke-width="1.8"/>
<circle cx="476.4" cy="116.8" r="4.1" fill="none" stroke="#111" stroke-width="1.8"/>
<circle cx="497.1" cy="131" r="4.1" fill="none" stroke="#111" stroke-width="1.8"/>
<text x="343.6" y="318.9" style="font-size:25px;letter-spacing:1.6px">c)</text>
<rect x="408.7" y="318.4" width="274.7" height="228.6" fill="#b9d4ee"/>
<rect x="528" y="318.4" width="72" height="228.6" fill="#fbe4b4"/>
<g clip-path="url(#cblue)">
<rect x="431.0" y="410.3" width="10" height="10" fill="#b36896"/>
<rect x="441.3" y="440.5" width="10" height="10" fill="#b36896"/>
<rect x="451.4" y="435.0" width="10" height="10" fill="#b36896"/>
<rect x="461.7" y="451.1" width="10" height="10" fill="#b36896"/>
<rect x="482.0" y="441.4" width="10" height="10" fill="#b36896"/>
<rect x="492.2" y="464.0" width="10" height="10" fill="#b36896"/>
<rect x="502.5" y="478.8" width="10" height="10" fill="#b36896"/>
<rect x="512.7" y="474.9" width="10" height="10" fill="#b36896"/>
<rect x="522.7" y="480.5" width="10" height="10" fill="#b36896"/>
<rect x="533.0" y="477.2" width="10" height="10" fill="#b36896"/>
<rect x="553.5" y="400.8" width="10" height="10" fill="#b36896"/>
<rect x="563.8" y="386.8" width="10" height="10" fill="#b36896"/>
<rect x="584.1" y="353.9" width="10" height="10" fill="#b36896"/>
<rect x="594.0" y="353.0" width="10" height="10" fill="#b36896"/>
<rect x="604.2" y="428.5" width="10" height="10" fill="#b36896"/>
<rect x="614.7" y="415.3" width="10" height="10" fill="#b36896"/>
<rect x="625.0" y="443.6" width="10" height="10" fill="#b36896"/>
<rect x="635.0" y="499.4" width="10" height="10" fill="#b36896"/>
<rect x="645.1" y="492.6" width="10" height="10" fill="#b36896"/>
<rect x="655.3" y="493.1" width="10" height="10" fill="#b36896"/>
</g><g clip-path="url(#corange)">
<rect x="431.0" y="410.3" width="10" height="10" fill="#ee4e2e"/>
<rect x="441.3" y="440.5" width="10" height="10" fill="#ee4e2e"/>
<rect x="451.4" y="435.0" width="10" height="10" fill="#ee4e2e"/>
<rect x="461.7" y="451.1" width="10" height="10" fill="#ee4e2e"/>
<rect x="482.0" y="441.4" width="10" height="10" fill="#ee4e2e"/>
<rect x="492.2" y="464.0" width="10" height="10" fill="#ee4e2e"/>
<rect x="502.5" y="478.8" width="10" height="10" fill="#ee4e2e"/>
<rect x="512.7" y="474.9" width="10" height="10" fill="#ee4e2e"/>
<rect x="522.7" y="480.5" width="10" height="10" fill="#ee4e2e"/>
<rect x="533.0" y="477.2" width="10" height="10" fill="#ee4e2e"/>
<rect x="553.5" y="400.8" width="10" height="10" fill="#ee4e2e"/>
<rect x="563.8" y="386.8" width="10" height="10" fill="#ee4e2e"/>
<rect x="584.1" y="353.9" width="10" height="10" fill="#ee4e2e"/>
<rect x="594.0" y="353.0" width="10" height="10" fill="#ee4e2e"/>
<rect x="604.2" y="428.5" width="10" height="10" fill="#ee4e2e"/>
<rect x="614.7" y="415.3" width="10" height="10" fill="#ee4e2e"/>
<rect x="625.0" y="443.6" width="10" height="10" fill="#ee4e2e"/>
<rect x="635.0" y="499.4" width="10" height="10" fill="#ee4e2e"/>
<rect x="645.1" y="492.6" width="10" height="10" fill="#ee4e2e"/>
<rect x="655.3" y="493.1" width="10" height="10" fill="#ee4e2e"/>
</g>
<path d="M408.6,547V542.0M434.1,547V543.5M459.6,547V542.0M485.1,547V543.5M510.6,547V542.0M536.1,547V543.5M561.5,547V542.0M587.0,547V543.5M612.5,547V542.0M638.0,547V543.5M663.5,547V542.0M408.7,547.0H414.7M408.7,524.8H412.2M408.7,502.6H414.7M408.7,480.4H412.2M408.7,458.2H414.7M408.7,436.0H412.2M408.7,413.8H414.7M408.7,391.6H412.2M408.7,369.4H414.7M408.7,347.2H412.2M408.7,325.0H414.7" stroke="#3d4f63" stroke-width="1.15" fill="none"/>
<rect x="408.7" y="318.4" width="274.7" height="228.6" fill="none" stroke="#222" stroke-width="1.3"/>
<text transform="translate(408.6,566.5) scale(1,1.04)" text-anchor="middle" style="font-size:17px">50</text>
<text transform="translate(459.6,566.5) scale(1,1.04)" text-anchor="middle" style="font-size:17px">100</text>
<text transform="translate(510.6,566.5) scale(1,1.04)" text-anchor="middle" style="font-size:17px">150</text>
<text transform="translate(561.5,566.5) scale(1,1.04)" text-anchor="middle" style="font-size:17px">200</text>
<text transform="translate(612.5,566.5) scale(1,1.04)" text-anchor="middle" style="font-size:17px">250</text>
<text transform="translate(663.5,566.5) scale(1,1.04)" text-anchor="middle" style="font-size:17px">300</text>
<text transform="translate(402.3,554.0) scale(1,1.04)" text-anchor="end" style="font-size:17px">1</text>
<text transform="translate(402.3,509.6) scale(1,1.04)" text-anchor="end" style="font-size:17px">2</text>
<text transform="translate(402.3,465.2) scale(1,1.04)" text-anchor="end" style="font-size:17px">3</text>
<text transform="translate(402.3,420.8) scale(1,1.04)" text-anchor="end" style="font-size:17px">4</text>
<text transform="translate(402.3,376.4) scale(1,1.04)" text-anchor="end" style="font-size:17px">5</text>
<text transform="translate(402.3,332.0) scale(1,1.04)" text-anchor="end" style="font-size:17px">6</text>
<text transform="translate(546.2,585.6) scale(1,1.04)" text-anchor="middle" style="font-size:16.8px">Temperature (K)</text>
<text transform="translate(363.2,432.9) rotate(-90) scale(1,1.04)" text-anchor="middle" style="font-size:17px">PL Intensity (a.u.)</text>
<text transform="translate(409.6,312.5) scale(1,1.04)" style="font-size:16.5px">·10</text><text transform="translate(432.6,305.6) scale(1,1.04)" style="font-size:10.5px">4</text>
<text transform="translate(429,364.9) scale(1,1.04)" style="font-size:17px">Phonon</text><text transform="translate(429,385) scale(1,1.04)" style="font-size:17px">Scattering</text>
<text transform="translate(527.6,511.5) scale(1,1.04)" style="font-size:17px">Plasmon</text><text transform="translate(527.6,532.7) scale(1,1.04)" style="font-size:17px">Enhancement</text>
<path d="M684.5,9.5V238.5M684.5,318V548" stroke="#9a9a9a" stroke-width="1"/>
</svg></body></html>
